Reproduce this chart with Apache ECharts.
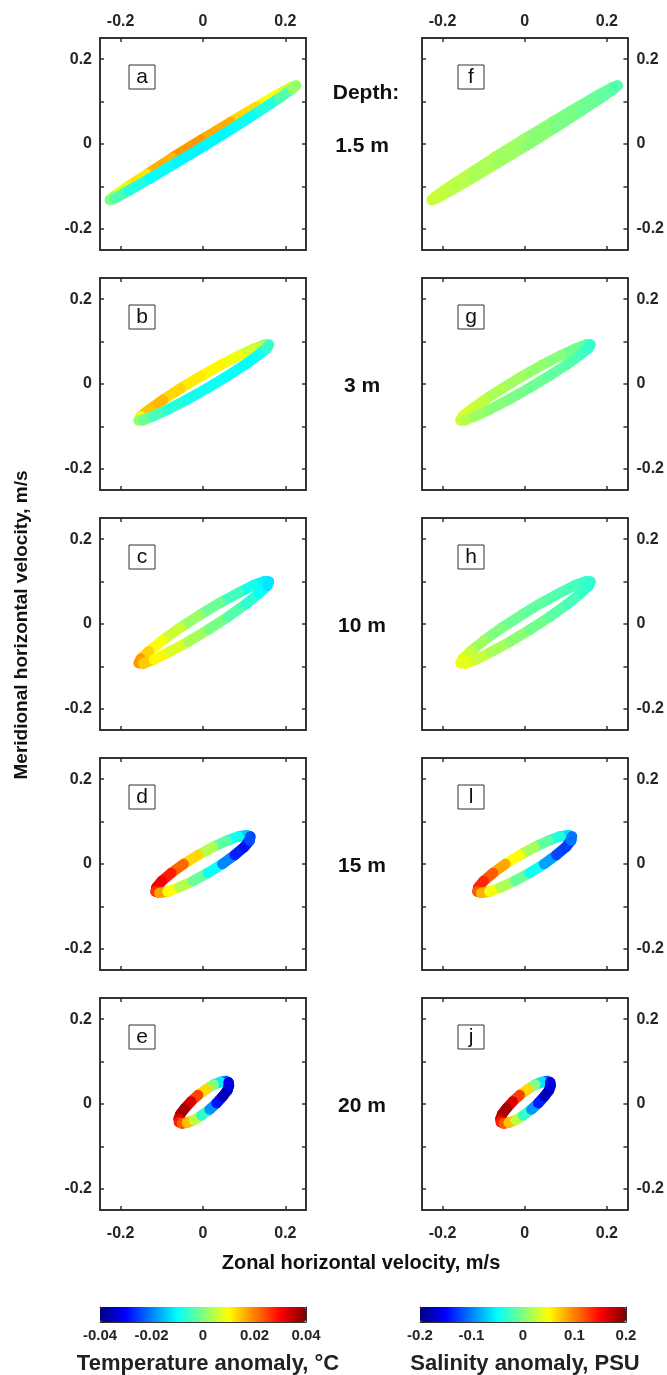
<!DOCTYPE html>
<html>
<head>
<meta charset="utf-8">
<script src="https://cdn.jsdelivr.net/npm/echarts@6/dist/echarts.min.js"></script>
<style>
  html, body { margin: 0; padding: 0; background: #fff; }
  #main { width: 667px; height: 1375px; }
</style>
</head>
<body>
<div id="main"></div>
<script>
// depth of each row, panel letters
var depthLabels = ['1.5 m', '3 m', '10 m', '15 m', '20 m'];
var leftLetters = ['a', 'b', 'c', 'd', 'e'];
var rightLetters = ['f', 'g', 'h', 'l', 'j'];

// tick values
var velTickX = [-0.2, 0, 0.2];
var velTickY = [-0.2, -0.1, 0, 0.1, 0.2];
var velLabelY = [-0.2, 0, 0.2];
var tempTicks = [-0.04, -0.02, 0, 0.02, 0.04];
var salTicks = [-0.2, -0.1, 0, 0.1, 0.2];

// hodographs (zonal u, meridional v, m/s), read along each ellipse
var u1p5 = [0.226, 0.214, 0.180, 0.130, 0.066, -0.004, -0.074, -0.136, -0.185, -0.216, -0.226, -0.214, -0.180, -0.130, -0.066, 0.004, 0.074, 0.136, 0.185, 0.216];
var v1p5 = [0.138, 0.134, 0.116, 0.088, 0.051, 0.010, -0.032, -0.071, -0.102, -0.123, -0.132, -0.128, -0.110, -0.082, -0.045, -0.004, 0.038, 0.077, 0.108, 0.129];
var u3 = [0.160, 0.150, 0.125, 0.089, 0.043, -0.006, -0.054, -0.097, -0.130, -0.151, -0.156, -0.146, -0.121, -0.085, -0.039, 0.010, 0.058, 0.101, 0.134, 0.155];
var v3 = [0.093, 0.093, 0.084, 0.068, 0.045, 0.018, -0.010, -0.037, -0.060, -0.076, -0.085, -0.085, -0.076, -0.060, -0.037, -0.010, 0.018, 0.045, 0.068, 0.084];
var u10 = [0.160, 0.150, 0.124, 0.087, 0.041, -0.008, -0.056, -0.099, -0.131, -0.151, -0.156, -0.145, -0.119, -0.082, -0.036, 0.013, 0.061, 0.104, 0.136, 0.156];
var v10 = [0.100, 0.101, 0.092, 0.074, 0.050, 0.021, -0.009, -0.039, -0.064, -0.082, -0.092, -0.093, -0.084, -0.066, -0.042, -0.013, 0.017, 0.047, 0.072, 0.090];
var u15 = [0.115, 0.106, 0.086, 0.058, 0.024, -0.012, -0.047, -0.077, -0.100, -0.113, -0.115, -0.106, -0.086, -0.058, -0.024, 0.012, 0.047, 0.077, 0.100, 0.113];
var v15 = [0.065, 0.068, 0.065, 0.055, 0.040, 0.021, 0.000, -0.021, -0.040, -0.055, -0.065, -0.068, -0.065, -0.055, -0.040, -0.021, 0.000, 0.021, 0.040, 0.055];
var u20 = [0.062, 0.055, 0.043, 0.026, 0.008, -0.012, -0.029, -0.044, -0.055, -0.059, -0.058, -0.051, -0.039, -0.022, -0.004, 0.016, 0.033, 0.048, 0.059, 0.063];
var v20 = [0.051, 0.054, 0.052, 0.046, 0.035, 0.021, 0.006, -0.010, -0.024, -0.035, -0.043, -0.046, -0.044, -0.038, -0.027, -0.013, 0.002, 0.018, 0.032, 0.043];

// temperature anomaly (°C) at the same points
var temp1p5 = [0.004, 0.005, 0.008, 0.011, 0.015, 0.018, 0.018, 0.014, 0.010, 0.006, 0.002, -0.002, -0.006, -0.009, -0.010, -0.011, -0.010, -0.009, -0.006, -0.001];
var temp3 = [-0.004, 0.002, 0.005, 0.008, 0.010, 0.011, 0.012, 0.014, 0.017, 0.012, 0.004, 0.000, -0.003, -0.006, -0.008, -0.009, -0.009, -0.010, -0.010, -0.008];
var temp10 = [-0.013, -0.012, -0.010, -0.007, -0.003, 0.000, 0.004, 0.008, 0.011, 0.016, 0.020, 0.016, 0.012, 0.009, 0.005, 0.001, -0.002, -0.005, -0.008, -0.011];
var temp15 = [-0.020, -0.016, -0.012, -0.006, 0.000, 0.008, 0.018, 0.026, 0.030, 0.032, 0.030, 0.022, 0.013, 0.007, 0.001, -0.005, -0.014, -0.025, -0.030, -0.028];
var temp20 = [-0.030, -0.026, -0.018, -0.005, 0.006, 0.020, 0.030, 0.036, 0.038, 0.036, 0.030, 0.026, 0.020, 0.010, 0.000, -0.012, -0.025, -0.033, -0.038, -0.034];

// salinity anomaly (PSU) at the same points
var sal1p5 = [-0.02, -0.015, -0.01, -0.005, 0.0, 0.008, 0.015, 0.02, 0.025, 0.03, 0.03, 0.03, 0.025, 0.02, 0.015, 0.008, 0.0, -0.005, -0.01, -0.015];
var sal3 = [-0.03, -0.02, -0.01, 0.0, 0.005, 0.01, 0.015, 0.02, 0.03, 0.035, 0.035, 0.025, 0.015, 0.005, 0.0, -0.005, -0.01, -0.015, -0.02, -0.03];
var sal10 = [-0.035, -0.03, -0.025, -0.02, -0.015, -0.01, -0.005, 0.005, 0.02, 0.035, 0.045, 0.045, 0.035, 0.02, 0.01, 0.0, -0.01, -0.02, -0.025, -0.03];
var sal15 = [-0.09, -0.075, -0.05, -0.025, 0.0, 0.03, 0.07, 0.1, 0.13, 0.14, 0.13, 0.1, 0.06, 0.03, 0.005, -0.025, -0.065, -0.11, -0.135, -0.12];
var sal20 = [-0.15, -0.13, -0.09, -0.03, 0.03, 0.1, 0.15, 0.18, 0.19, 0.18, 0.15, 0.13, 0.1, 0.05, 0.0, -0.06, -0.12, -0.16, -0.19, -0.17];

var uRows = [u1p5, u3, u10, u15, u20];
var vRows = [v1p5, v3, v10, v15, v20];
var tempRows = [temp1p5, temp3, temp10, temp15, temp20];
var salRows = [sal1p5, sal3, sal10, sal15, sal20];

var jet = ['#000080', '#0000ff', '#0080ff', '#00ffff', '#80ff80', '#ffff00', '#ff8000', '#ff0000', '#800000'];
var FONT = 'Liberation Sans, Arial, sans-serif';
var INK = '#262626';

// closed ring of segments, coloured by the mean of the two ends
function ringSegments(u, v, c) {
  var segs = [];
  for (var i = 0; i < u.length; i++) {
    var j = (i + 1) % u.length;
    segs.push({ coords: [[u[i], v[i]], [u[j], v[j]]], value: (c[i] + c[j]) / 2 });
  }
  return segs;
}

function frameAxis(gridIndex, position, showLabel, labelVals, tickVals, margin, range, lw) {
  var a = {
    type: 'value', gridIndex: gridIndex, position: position,
    min: range[0], max: range[1],
    splitLine: { show: false },
    axisLine: { show: true, onZero: false, lineStyle: { color: '#333', width: lw || 2 } },
    axisTick: { show: tickVals.length > 0, inside: true, length: 4, lineStyle: { color: '#333', width: 1.5 } },
    axisLabel: { show: showLabel, margin: margin, color: INK, fontWeight: 'bold', fontSize: 16, fontFamily: FONT }
  };
  if (tickVals.length) a.axisTick.customValues = tickVals;
  if (labelVals.length) a.axisLabel.customValues = labelVals;
  return a;
}

var bars = [
  { left: 100, range: [-0.04, 0.04], ticks: tempTicks, title: 'Temperature anomaly, °C', cx: 208 },
  { left: 420, range: [-0.2, 0.2], ticks: salTicks, title: 'Salinity anomaly, PSU', cx: 525 }
];

// mode 0: solid lines via lineStyle, 1: solid via visualMap, 2: library default
function buildOption(mode) {
  var grids = [], xAxes = [], yAxes = [], series = [], graphics = [], visualMaps = [];
  var vel = [-0.25, 0.25];
  for (var r = 0; r < 5; r++) {
    for (var c = 0; c < 2; c++) {
      var g = grids.length;
      var left = c === 0 ? 100 : 422;
      var top = 38 + 240 * r;
      grids.push({ left: left, top: top, width: 206, height: 212 });
      xAxes.push(frameAxis(g, 'bottom', r === 4, velTickX, velTickX, 16, vel));
      xAxes.push(frameAxis(g, 'top', r === 0, velTickX, velTickX, 8, vel));
      yAxes.push(frameAxis(g, 'left', c === 0, velLabelY, velTickY, 8, vel));
      yAxes.push(frameAxis(g, 'right', c === 1, velLabelY, velTickY, 9, vel));
      var ls = { width: 10.5, cap: 'round' };
      if (mode === 0) ls.opacity = 1;
      series.push({
        type: 'lines', coordinateSystem: 'cartesian2d',
        xAxisIndex: 2 * g, yAxisIndex: 2 * g,
        lineStyle: ls,
        data: ringSegments(uRows[r], vRows[r], c === 0 ? tempRows[r] : salRows[r])
      });
      var bx = left + (c === 0 ? 29 : 36);
      var by = top + 27;
      graphics.push({ type: 'rect', shape: { x: bx, y: by, width: 26, height: 24 },
        style: { fill: '#fff', stroke: '#333', lineWidth: 1 } });
      graphics.push({ type: 'text', x: bx + 13, y: by + 12,
        style: { text: c === 0 ? leftLetters[r] : rightLetters[r], font: '21px ' + FONT,
          fill: '#111', textAlign: 'center', textVerticalAlign: 'middle' } });
    }
    graphics.push({ type: 'text', x: 362, y: 146 + 240 * r,
      style: { text: depthLabels[r], font: 'bold 21px ' + FONT, fill: '#111',
        textAlign: 'center', textVerticalAlign: 'middle' } });
  }
  graphics.push({ type: 'text', x: 366, y: 93,
    style: { text: 'Depth:', font: 'bold 21px ' + FONT, fill: '#111', textAlign: 'center', textVerticalAlign: 'middle' } });
  graphics.push({ type: 'text', x: 361, y: 1263,
    style: { text: 'Zonal horizontal velocity, m/s', font: 'bold 20px ' + FONT, fill: '#111',
      textAlign: 'center', textVerticalAlign: 'middle' } });
  graphics.push({ type: 'text', x: 22, y: 625, rotation: Math.PI / 2,
    style: { text: 'Meridional horizontal velocity, m/s', font: 'bold 19px ' + FONT, fill: '#111',
      textAlign: 'center', textVerticalAlign: 'middle' } });

  // colour bars: frame and tick labels on their own small grids
  bars.forEach(function (b, k) {
    var g = grids.length;
    grids.push({ left: b.left, top: 1307, width: 206, height: 15 });
    var bottomAx = frameAxis(g, 'bottom', true, b.ticks, b.ticks, 6, b.range, 1);
    bottomAx.axisTick.length = 3;
    bottomAx.axisTick.lineStyle.width = 1;
    bottomAx.axisLabel.fontSize = 15;
    xAxes.push(bottomAx);
    xAxes.push(frameAxis(g, 'top', false, [], [], 0, b.range, 1));
    yAxes.push(frameAxis(g, 'left', false, [], [], 0, [0, 1], 1));
    yAxes.push(frameAxis(g, 'right', false, [], [], 0, [0, 1], 1));
    var inRange = { color: jet.slice() };
    if (mode === 1) inRange.opacity = [1, 1];
    visualMaps.push({
      type: 'continuous',
      seriesIndex: k === 0 ? [0, 2, 4, 6, 8] : [1, 3, 5, 7, 9],
      min: b.range[0], max: b.range[1],
      orient: 'horizontal', left: b.left, top: 1307,
      itemWidth: 15, itemHeight: 206, padding: 0,
      calculable: false,
      inRange: inRange
    });
    graphics.push({ type: 'text', x: b.cx, y: 1364,
      style: { text: b.title, font: 'bold 22px ' + FONT, fill: '#222', textAlign: 'center', textVerticalAlign: 'middle' } });
  });

  return { animation: false, grid: grids, xAxis: xAxes, yAxis: yAxes, series: series,
    graphic: graphics, visualMap: visualMaps };
}

var el = document.getElementById('main');
var chart = null;
for (var mode = 0; mode < 3; mode++) {
  if (chart) chart.dispose();
  chart = echarts.init(el);
  try {
    chart.setOption(buildOption(mode));
    break;
  } catch (e) {
    console.warn('render mode ' + mode + ' failed', e);
  }
}
</script>
</body>
</html>
